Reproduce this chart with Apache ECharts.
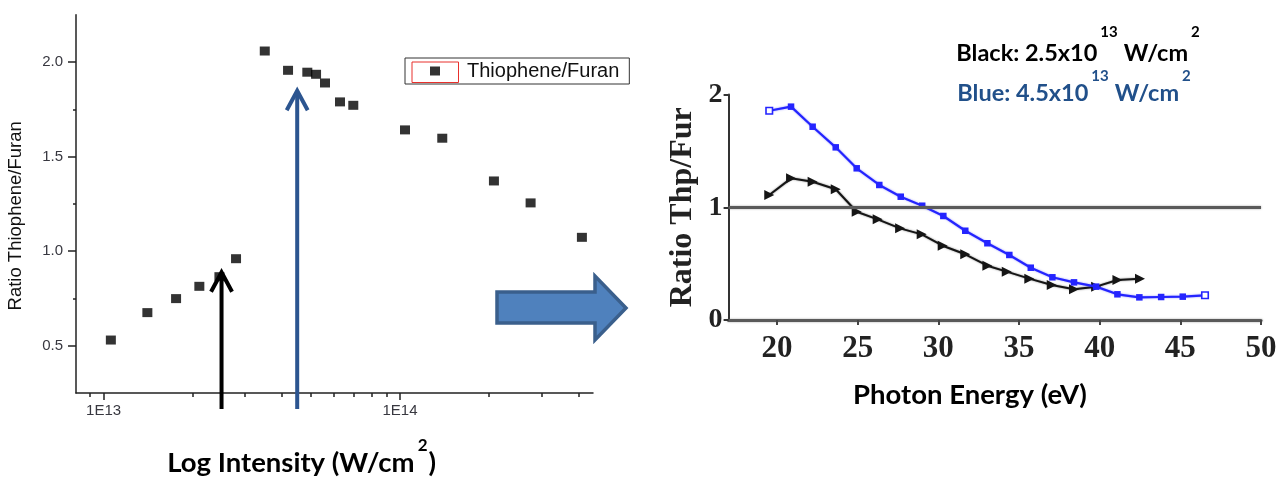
<!DOCTYPE html>
<html>
<head>
<meta charset="utf-8">
<script src="https://cdn.jsdelivr.net/npm/echarts@6/dist/echarts.min.js"></script>
<style>
  html, body { margin: 0; padding: 0; background: #fff; }
  #chart { width: 1281px; height: 480px; }
</style>
</head>
<body>
<div id="chart"></div>
<script>
// Left panel: Thiophene/Furan yield ratio versus laser intensity
const intensity = [1.058e13, 1.405e13, 1.756e13, 2.104e13, 2.459e13, 2.798e13, 3.498e13, 4.191e13, 4.868e13,
                   5.21e13, 5.585e13, 6.275e13, 6.958e13, 1.040e14, 1.389e14, 2.075e14, 2.759e14, 4.11e14];
const ratioThFu = [0.530, 0.675, 0.749, 0.814, 0.865, 0.960, 2.058, 1.956, 1.946,
                   1.935, 1.889, 1.789, 1.771, 1.641, 1.597, 1.371, 1.255, 1.073];
const intensityMajorTicks = [1e13, 1e14];
const intensityMinorTicks = [8e12, 9e12, 2e13, 3e13, 4e13, 5e13, 6e13, 7e13, 8e13, 9e13, 2e14, 3e14, 4e14];
const ratioMajorTicks = [0.5, 1.0, 1.5, 2.0];
const ratioMinorTicks = [0.75, 1.25, 1.75];

// Intensities marked by arrows (2.5e13 and 4.5e13 W/cm2)
const markedIntensity = [2.5e13, 4.5e13];
const markedTip = [0.888, 1.848];
const markedColor = ['#000000', '#2c5590'];

// Right panel: Thp/Fur ratio versus photon energy at two intensities
const energyBlue = [19.52, 20.87, 22.21, 23.64, 24.94, 26.34, 27.67, 29.0, 30.31, 31.67, 33.04,
                    34.40, 35.73, 37.07, 38.41, 39.78, 41.10, 42.46, 43.81, 45.15, 46.53];
const ratioBlue = [1.857, 1.893, 1.715, 1.532, 1.346, 1.198, 1.094, 1.014, 0.923, 0.792, 0.681,
                   0.577, 0.464, 0.379, 0.334, 0.296, 0.228, 0.201, 0.204, 0.207, 0.219];
const energyBlack = [19.52, 20.87, 22.21, 23.64, 24.94, 26.24, 27.63, 28.97, 30.27, 31.67, 33.04,
                     34.24, 35.64, 37.03, 38.41, 39.78, 41.10, 42.50];
const ratioBlack = [1.109, 1.257, 1.227, 1.160, 0.961, 0.893, 0.813, 0.760, 0.659, 0.583, 0.482,
                    0.429, 0.367, 0.311, 0.272, 0.296, 0.355, 0.367];
const energyTicks = [20, 25, 30, 35, 40, 45, 50];
const referenceRatio = 1;

const zip = (xs, ys) => xs.map((x, i) => [x, ys[i]]);

const sans = 'Liberation Sans, Arial, sans-serif';
const serif = 'Liberation Serif, Times New Roman, serif';
const calibriLike = 'Lato, Carlito, sans-serif';

// Rich styles for a bold line with raised exponents; 'h' is a spacer that sets the line height
function supRich(mainSize, supSize, supLineHeight, lineHeight, color) {
  const base = { fontFamily: calibriLike, fontWeight: 'bold', color: color };
  return {
    h: { fontSize: 1, lineHeight: lineHeight, verticalAlign: 'top', color: 'transparent' },
    m: Object.assign({ fontSize: mainSize, lineHeight: mainSize, verticalAlign: 'bottom' }, base),
    s: Object.assign({ fontSize: supSize, lineHeight: supLineHeight, verticalAlign: 'top', padding: [0, 6, 0, 3] }, base),
    e: Object.assign({ fontSize: supSize, lineHeight: supLineHeight, verticalAlign: 'top', padding: [0, 1, 0, 3] }, base)
  };
}

// Blue markers: the end points are drawn hollow
const blueData = zip(energyBlue, ratioBlue).map((p, i, arr) =>
  (i === 0 || i === arr.length - 1)
    ? { value: p, itemStyle: { color: '#ffffff', borderColor: '#2424ff', borderWidth: 1.6 } }
    : p);

const chart = echarts.init(document.getElementById('chart'), null, { renderer: 'canvas' });

const option = {
  animation: false,
  backgroundColor: '#ffffff',
  grid: [
    { left: 76, top: 14.7, width: 517, height: 378.3, outerBoundsMode: 'none' },
    { left: 728.6, top: 94.6, width: 532.4, height: 225.4, outerBoundsMode: 'none' }
  ],
  title: [
    {
      text: '{h| }{m|Log Intensity (W/cm}{e|2}{m|)}',
      left: 167, top: 437, padding: 0,
      textStyle: { rich: supRich(27.5, 17, 33, 40, '#000') }
    },
    {
      text: 'Photon Energy (eV)',
      left: 853, top: 381, padding: 0,
      textStyle: { fontFamily: calibriLike, fontWeight: 'bold', fontSize: 27.5, color: '#000' }
    },
    {
      text: '{h| }{m|Black: 2.5x10}{s|13}{m|W/cm}{e|2}',
      left: 956, top: 25, padding: 0,
      textStyle: { rich: supRich(23.5, 15, 18, 40.5, '#000') }
    },
    {
      text: '{h| }{m|Blue: 4.5x10}{s|13}{m|W/cm}{e|2}',
      left: 957, top: 68.7, padding: 0,
      textStyle: { rich: supRich(23.5, 15, 19, 36.7, '#21508a') }
    }
  ],
  legend: {
    data: ['Thiophene/Furan'],
    left: 405, top: 58,
    orient: 'horizontal',
    icon: 'rect',
    itemWidth: 10, itemHeight: 9,
    padding: [3, 10, 3, 25],
    borderColor: '#333', borderWidth: 1,
    textStyle: { fontFamily: sans, fontSize: 20, lineHeight: 20, color: '#111', padding: [0, 0, 0, 22] }
  },
  xAxis: [
    {
      type: 'log', gridIndex: 0, logBase: 10, min: 8.07e12, max: 4.48e14,
      axisLine: { show: true, onZero: false, lineStyle: { color: '#222', width: 1.5 } },
      axisTick: { show: true, customValues: intensityMajorTicks, length: 7, lineStyle: { color: '#222', width: 1.5 } },
      axisLabel: {
        customValues: intensityMajorTicks, margin: 10,
        fontFamily: sans, fontSize: 15, color: '#383840',
        formatter: v => '1E' + Math.round(Math.log10(v))
      },
      splitLine: { show: false }
    },
    {
      type: 'log', gridIndex: 0, logBase: 10, min: 8.07e12, max: 4.48e14, position: 'bottom',
      axisLine: { show: false, onZero: false },
      axisTick: { show: true, customValues: intensityMinorTicks, length: 4, lineStyle: { color: '#222', width: 1.5 } },
      axisLabel: { show: false },
      splitLine: { show: false }
    },
    {
      type: 'value', gridIndex: 1, min: 17, max: 50,
      axisLine: { show: true, onZero: false, lineStyle: { color: '#5a5a5a', width: 3, shadowColor: 'rgba(90,90,90,0.6)', shadowBlur: 2 } },
      axisTick: { show: true, customValues: energyTicks, length: 5, lineStyle: { color: '#444', width: 2 } },
      axisLabel: {
        customValues: energyTicks, margin: 13,
        fontFamily: serif, fontWeight: 'bold', fontSize: 31, color: '#222'
      },
      splitLine: { show: false }
    }
  ],
  yAxis: [
    {
      type: 'value', gridIndex: 0, min: 0.25, max: 2.25, position: 'left',
      name: 'Ratio Thiophene/Furan', nameLocation: 'middle', nameRotate: 90, nameGap: 51,
      nameTextStyle: { fontFamily: sans, fontSize: 18.5, color: '#111', padding: [0, 24, 0, 0] },
      axisLine: { show: true, onZero: false, lineStyle: { color: '#222', width: 1.5 } },
      axisTick: { show: true, customValues: ratioMajorTicks, length: 8, lineStyle: { color: '#222', width: 1.5 } },
      axisLabel: {
        customValues: ratioMajorTicks, margin: 13,
        fontFamily: sans, fontSize: 15, color: '#383840',
        formatter: v => v.toFixed(1)
      },
      splitLine: { show: false }
    },
    {
      type: 'value', gridIndex: 0, min: 0.25, max: 2.25, position: 'left',
      axisLine: { show: false, onZero: false },
      axisTick: { show: true, customValues: ratioMinorTicks, length: 3, lineStyle: { color: '#222', width: 1.5 } },
      axisLabel: { show: false },
      splitLine: { show: false }
    },
    {
      type: 'value', gridIndex: 1, min: 0, max: 2, interval: 1, position: 'left',
      name: 'Ratio Thp/Fur', nameLocation: 'middle', nameRotate: 90, nameGap: 30,
      nameTextStyle: { fontFamily: serif, fontWeight: 'bold', fontSize: 32, color: '#222' },
      axisLine: { show: true, onZero: false, lineStyle: { color: '#333', width: 2 } },
      axisTick: { show: true, length: 5, lineStyle: { color: '#333', width: 2 } },
      axisLabel: { margin: 6, fontFamily: serif, fontWeight: 'bold', fontSize: 28, color: '#222' },
      splitLine: { show: false }
    }
  ],
  graphic: [
    // red frame round the legend symbol
    { type: 'rect', shape: { x: 412, y: 62, width: 46.5, height: 20.5 },
      style: { fill: 'none', stroke: '#e8302c', lineWidth: 1 }, z: 10 },
    // block arrow linking the two panels
    { type: 'polygon',
      shape: { points: [[497, 292], [595, 292], [595, 276], [626, 308], [595, 340], [595, 323], [497, 323]] },
      style: { fill: '#4f81bd', stroke: '#3a5f8c', lineWidth: 3.5, lineJoin: 'miter' }, z: 10 }
  ],
  series: [
    {
      name: 'Thiophene/Furan', type: 'scatter', xAxisIndex: 0, yAxisIndex: 0,
      symbol: 'rect', symbolSize: [10, 9],
      itemStyle: { color: '#000' },
      data: zip(intensity, ratioThFu), z: 3
    },
    {
      name: 'marked intensities', type: 'custom', xAxisIndex: 0, yAxisIndex: 0, clip: false, z: 4,
      data: zip(markedIntensity, markedTip),
      renderItem: function (params, api) {
        const tip = api.coord([api.value(0), api.value(1)]);
        const base = api.coord([api.value(0), 0.25]);
        const color = markedColor[params.dataIndex];
        const style = { stroke: color, lineWidth: 4, fill: 'none', lineCap: 'butt', lineJoin: 'miter' };
        return {
          type: 'group',
          children: [
            { type: 'line', shape: { x1: tip[0], y1: base[1] + 16, x2: tip[0], y2: tip[1] + 2 }, style: style },
            { type: 'polyline', shape: { points: [[tip[0] - 10.5, tip[1] + 19.5], [tip[0], tip[1]], [tip[0] + 10.5, tip[1] + 19.5]] }, style: style }
          ]
        };
      }
    },
    {
      name: 'Black', type: 'line', xAxisIndex: 2, yAxisIndex: 2,
      data: zip(energyBlack, ratioBlack),
      symbol: 'triangle', symbolRotate: -90, symbolSize: 10,
      lineStyle: { color: '#151515', width: 2, shadowColor: 'rgba(0,0,0,0.5)', shadowBlur: 2 },
      itemStyle: { color: '#151515' },
      z: 3,
      markLine: {
        silent: true, symbol: 'none', label: { show: false },
        lineStyle: { color: '#5a5a5a', width: 3, type: 'solid', shadowColor: 'rgba(90,90,90,0.6)', shadowBlur: 2 },
        data: [{ yAxis: referenceRatio }]
      }
    },
    {
      name: 'Blue', type: 'line', xAxisIndex: 2, yAxisIndex: 2,
      data: blueData,
      symbol: 'rect', symbolSize: 6.5,
      lineStyle: { color: '#2424ff', width: 2.2, shadowColor: 'rgba(36,36,255,0.5)', shadowBlur: 2 },
      itemStyle: { color: '#2424ff' },
      z: 4
    }
  ]
};

chart.setOption(option);
</script>
</body>
</html>
